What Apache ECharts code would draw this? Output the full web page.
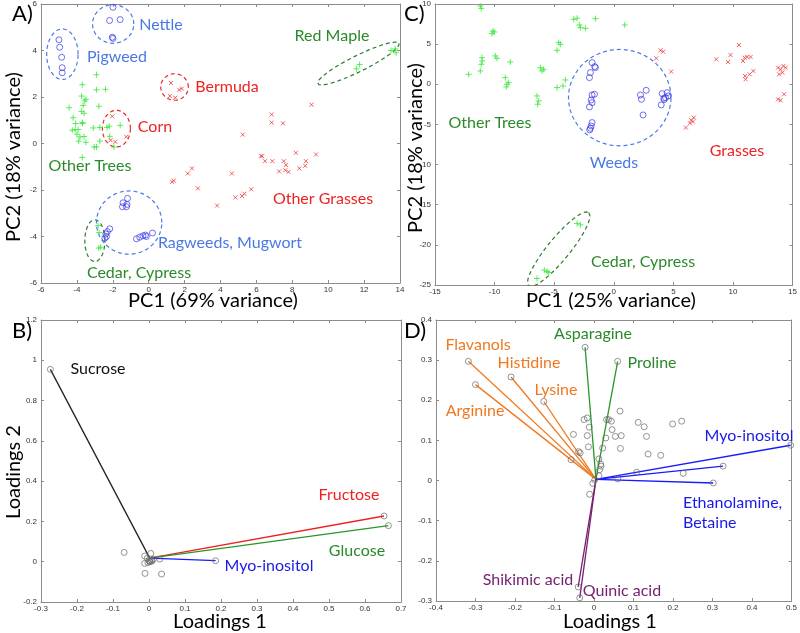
<!DOCTYPE html>
<html><head><meta charset="utf-8">
<script src="https://cdn.jsdelivr.net/npm/echarts@6/dist/echarts.min.js"></script>
<style>html,body{margin:0;padding:0;background:#fff}#c{width:800px;height:633px}</style>
</head><body><div id="c"></div>
<script>
// ---------- Panel A (PCA scores, PC1 69% vs PC2 18%) ----------
const nettleA = [[-1.99,5.86],[-2.18,5.29],[-1.59,5.33],[-2.03,4.57],[-1.99,4.52]];
const pigweedA = [[-5.0,4.46],[-4.96,4.14],[-4.85,3.71],[-4.82,3.26],[-4.82,3.04]];
const ragweedA = [[-1.18,-2.36],[-1.43,-2.55],[-1.21,-2.62],[-1.46,-2.72],[-1.24,-2.72],[-2.17,-3.67],[-2.30,-3.79],[-2.39,-3.89],[-2.35,-4.0],[-2.44,-4.07],[-0.68,-4.10],[-0.5,-4.03],[-0.32,-3.97],[-0.18,-3.94],[0.21,-3.85],[-0.13,-4.0]];
const bermudaA = [[1.24,2.6],[1.18,2.04],[1.48,1.97],[1.70,2.31],[1.85,2.36]];
const cornA = [[-2.03,1.17],[-2.12,0.14],[-1.86,0.07],[-1.25,0.29]];
const grassesA = [[9.07,1.67],[6.85,1.25],[6.85,0.90],[7.48,0.87],[5.24,0.38],[6.26,-0.53],[6.32,-0.55],[6.48,-0.76],[6.89,-0.76],[8.20,-0.40],[9.32,-0.47],[7.52,-0.76],[7.65,-0.93],[7.61,-1.15],[7.26,-1.20],[7.79,-1.22],[8.39,-1.07],[8.76,-0.76],[8.72,-0.96],[2.18,-1.29],[2.41,-1.07],[4.63,-1.29],[2.74,-1.93],[3.81,-2.67],[4.83,-2.32],[5.2,-2.26],[5.33,-2.16],[5.71,-1.97],[1.3,-1.65],[1.4,-1.6]];
const treesA = [[-2.91,2.96],[-3.70,2.53],[-2.91,2.31],[-2.41,2.33],[-3.74,2.04],[-3.56,1.83],[-3.65,1.64],[-4.43,1.54],[-2.78,1.60],[-3.74,1.38],[-4.21,1.11],[-4.07,0.86],[-3.68,0.86],[-3.93,0.60],[-3.09,0.67],[-2.72,0.69],[-2.32,0.69],[-1.59,0.78],[-4.26,0.57],[-3.83,0.28],[-2.72,0.10],[-2.17,0.31],[-2.91,-0.15],[-3.04,-0.15],[-1.94,-0.15],[-3.70,-0.60],[-4.0,0.4],[-3.6,0.3],[-3.9,0.1],[-4.1,0.6],[-3.5,0.05],[-3.7,0.9],[-2.2,0.75],[-3.5,1.9],[-3.6,1.3]];
const redMapleA = [[11.57,3.21],[11.75,3.40],[13.5,4.0],[13.73,4.07],[13.78,3.9]];
const cedarA = [[-2.82,-3.53],[-2.76,-3.83],[-2.68,-4.46],[-2.78,-4.5]];

// ---------- Panel C (PC1 25% vs PC2 18%) ----------
const treesC = [[-11.2,9.75],[-11.12,9.46],[-10.14,6.64],[-10.22,6.31],[-10.03,6.51],[-12.18,1.24],[-11.06,3.32],[-11.04,2.90],[-11.12,2.49],[-11.2,1.66],[-9.94,3.53],[-9.80,3.24],[-8.68,2.78],[-9.10,0.83],[-8.96,0],[-8.82,0.21],[-9.02,-0.33],[-6.44,-1.45],[-6.39,-2.49],[-6.30,-2.07],[-6.16,2.07],[-6.02,1.66],[-5.88,1.87],[-4.62,5.19],[-4.76,4.23],[-4.48,4.98],[-4.76,-0.41],[-4.26,-0.21],[-4.06,0.54],[-3.36,8.09],[-3.08,8.22],[-2.89,7.39],[-2.80,7.05],[-2.38,6.97],[-1.54,8.17],[0.92,7.39]];
const cedarC = [[-3.08,-17.34],[-2.80,-17.51],[-6.44,-24.19],[-5.60,-23.32],[-5.46,-23.44],[-5.83,-23.15]];
const weedsC = [[-1.82,2.70],[-1.54,2.07],[-1.96,1.45],[-2.04,0.83],[-1.60,2.2],[-1.82,-1.33],[-1.62,-1.24],[-1.90,-1.95],[-2.04,-2.82],[-1.82,-2.28],[-1.82,-4.77],[-1.90,-5.19],[-1.96,-5.48],[-2.02,-5.68],[2.24,-1.33],[2.32,-1.87],[2.72,-0.75],[2.46,-3.82],[4.06,-1.16],[4.20,-1.74],[3.98,-2.57],[4.48,-1.04],[4.57,-1.45],[4.34,-1.66],[4.23,-1.91]];
const grassesC = [[3.92,4.23],[4.15,4.07],[3.56,3.24],[4.82,1.58],[8.60,3.11],[9.58,2.78],[9.80,3.65],[10.50,4.90],[10.84,2.90],[10.98,3.32],[11.20,3.40],[11.48,3.40],[11.71,1.66],[11.01,1.04],[11.06,0.62],[11.40,1.24],[13.78,2.07],[14.0,1.87],[13.87,1.24],[14.15,1.45],[14.23,2.28],[14.43,2.07],[13.78,-1.87],[14.0,-1.99],[14.29,-1.24],[6.72,-4.15],[6.50,-4.48],[6.64,-4.65],[6.39,-4.85],[6.05,-5.39]];

// ---------- Panel B (loadings) ----------
const originB = [0.002,0.018];
const sucroseB = [-0.274,0.955];
const fructoseB = [0.653,0.227];
const glucoseB = [0.665,0.179];
const myoB = [0.185,0.005];
const otherB = [[-0.069,0.046],[-0.012,0.028],[0.005,0.041],[-0.012,-0.008],[-0.011,-0.058],[0.035,-0.061],[0.030,0.013],[-0.005,0.017],[0,0.005],[0.003,0],[0.006,0.008],[0.012,0.012],[-0.003,-0.004],[0.002,0.002],[0.008,0.003]];

// ---------- Panel D (loadings) ----------
const originD = [0.005,0.003];
const orangeD = [[-0.318,0.297],[-0.21,0.258],[-0.30,0.239],[-0.127,0.197]];
const greenD = [[-0.0225,0.332],[0.06,0.297]];
const blueD = [[0.498,0.088],[0.327,0.036],[0.302,-0.006]];
const purpleD = [[-0.036,-0.292],[-0.04,-0.265]];
const otherD = [[-0.025,0.152],[-0.017,0.156],[-0.012,0.133],[-0.017,0.112],[-0.014,0.084],[-0.052,0.115],[-0.039,0.072],[-0.035,0.069],[-0.058,0.052],[0.066,0.173],[0.032,0.152],[0.037,0.152],[0.044,0.148],[0.046,0.127],[0.03,0.106],[0.022,0.081],[0.054,0.11],[0.069,0.112],[0.067,0.08],[0.112,0.145],[0.127,0.134],[0.133,0.11],[0.137,0.066],[0.169,0.063],[0.199,0.141],[0.222,0.148],[0.0125,0.054],[0.017,0.041],[0.018,0.036],[0.014,0.027],[0.0125,0.012],[0.002,0.002],[-0.003,-0.007],[-0.011,-0.034],[0.06,0.004],[0.108,0.021],[0.226,0.018]];

// ---------- Axis tick settings ----------
const ticksA = {x:[-6,14,2], y:[-6,6,2]};
const ticksC = {x:[-15,15,5], y:[-25,10,5]};
const ticksB = {x:[-0.3,0.7,0.1], y:[-0.2,1.2,0.2]};
const ticksD = {x:[-0.4,0.5,0.1], y:[-0.3,0.4,0.1]};

// ---------- Ellipse outlines (center, axis vectors) ----------
const ellipsesA = [
  {c:[-1.98,5.14], u:[1.15,0], v:[0,0.83], col:'blue'},
  {c:[-4.81,3.84], u:[0.875,0], v:[0,1.09], col:'blue'},
  {c:[1.44,2.43], u:[0.77,0], v:[0,0.57], col:'red'},
  {c:[-1.80,0.64], u:[0.78,0], v:[0,0.79], col:'red'},
  {c:[11.68,3.44], u:[2.27,0.87], v:[0.198,-0.307], col:'green'},
  {c:[-3.0,-4.18], u:[0.56,0], v:[0,0.9], col:'green'},
  {c:[-1.09,-3.40], u:[1.82,0], v:[0,1.36], col:'blue'}
];
const ellipsesC = [
  {c:[0.5,-1.66], u:[4.3,0], v:[0,6.0], col:'blue'},
  {c:[-4.62,-20.54], u:[2.52,4.56], v:[0.71,-0.87], col:'green'}
];

const C = {
  blueTxt:'#4a78e6', redTxt:'#ee2222', greenTxt:'#2a8a2a',
  blueDash:'#4a7be8', redDash:'#e82828', greenDash:'#2e7d2e',
  plus:'#35e835', cross:'#f03a3a', circ:'#3838e6',
  gray:'#6a6a6a', orange:'#f07820', green2:'#2a962a', blue2:'#1a1aff', purple:'#782070'
};

const grids = [
  {left:41, top:3, width:359, height:280},
  {left:435, top:3, width:358, height:282},
  {left:41, top:320, width:360, height:282},
  {left:436, top:320, width:357, height:281}
];
const fmt = v => String(+(+v).toFixed(2));
const xAxes = [], yAxes = [];
function axes(g, t){
  const common = {type:'value', gridIndex:g, splitLine:{show:false},
    axisLine:{show:true, onZero:false, lineStyle:{color:'#8c8c8c', width:1}},
    axisTick:{show:true, inside:true, length:3, lineStyle:{color:'#8c8c8c'}}};
  const lab = {show:true, fontSize:8, color:'#333', fontFamily:'Liberation Sans', formatter:fmt};
  xAxes.push(Object.assign({}, common, {position:'bottom', min:t.x[0], max:t.x[1], interval:t.x[2], axisLabel:Object.assign({margin:3}, lab)}));
  xAxes.push(Object.assign({}, common, {position:'top', min:t.x[0], max:t.x[1], interval:t.x[2], axisLabel:{show:false}}));
  yAxes.push(Object.assign({}, common, {position:'left', min:t.y[0], max:t.y[1], interval:t.y[2], axisLabel:Object.assign({margin:4}, lab)}));
  yAxes.push(Object.assign({}, common, {position:'right', min:t.y[0], max:t.y[1], interval:t.y[2], axisLabel:{show:false}}));
}
axes(0,ticksA); axes(1,ticksC); axes(2,ticksB); axes(3,ticksD);

const PLUS = 'path://M0,5L10,5M5,0L5,10';
const CROSS = 'path://M0,0L10,10M0,10L10,0';
const series = [];
function scat(g, data, sym, color, size, bw){
  series.push({type:'scatter', xAxisIndex:2*g, yAxisIndex:2*g, data:data, symbol:sym, symbolSize:size,
    itemStyle:{color:'rgba(0,0,0,0)', borderColor:color, borderWidth:bw||1}, silent:true, z:4, animation:false});
}
function seg(g, a, b, color, w){
  series.push({type:'line', xAxisIndex:2*g, yAxisIndex:2*g, data:[a,b], symbol:'none',
    lineStyle:{color:color, width:w||1.3}, silent:true, z:3, animation:false});
}
function ell(g, e){
  const pts = [];
  for(let i=0;i<=72;i++){ const t = i/72*2*Math.PI;
    pts.push([e.c[0]+e.u[0]*Math.cos(t)+e.v[0]*Math.sin(t), e.c[1]+e.u[1]*Math.cos(t)+e.v[1]*Math.sin(t)]); }
  const col = e.col==='blue'?C.blueDash:e.col==='red'?C.redDash:C.greenDash;
  series.push({type:'line', xAxisIndex:2*g, yAxisIndex:2*g, data:pts, symbol:'none', showSymbol:false,
    lineStyle:{color:col, width:1.2, type:[4,3]}, silent:true, z:2, animation:false});
}
// Panel A
ellipsesA.forEach(e=>ell(0,e));
scat(0, treesA, PLUS, C.plus, 6); scat(0, redMapleA, PLUS, C.plus, 6); scat(0, cedarA, PLUS, C.plus, 6);
scat(0, grassesA, CROSS, C.cross, 4); scat(0, bermudaA, CROSS, C.cross, 4); scat(0, cornA, CROSS, C.cross, 4);
scat(0, nettleA, 'circle', C.circ, 6, 0.9); scat(0, pigweedA, 'circle', C.circ, 6, 0.9); scat(0, ragweedA, 'circle', C.circ, 6, 0.9);
// Panel C
ellipsesC.forEach(e=>ell(1,e));
scat(1, treesC, PLUS, C.plus, 6); scat(1, cedarC, PLUS, C.plus, 6);
scat(1, grassesC, CROSS, C.cross, 4);
scat(1, weedsC, 'circle', C.circ, 6, 0.9);
// Panel B
seg(2, originB, sucroseB, '#222'); seg(2, originB, fructoseB, '#f02020'); seg(2, originB, glucoseB, '#2a962a'); seg(2, originB, myoB, C.blue2);
scat(2, [sucroseB, fructoseB, glucoseB, myoB].concat(otherB), 'circle', C.gray, 6, 0.9);
// Panel D
orangeD.forEach(p=>seg(3, originD, p, C.orange));
greenD.forEach(p=>seg(3, originD, p, C.green2));
blueD.forEach(p=>seg(3, originD, p, C.blue2));
purpleD.forEach(p=>seg(3, originD, p, C.purple));
scat(3, orangeD.concat(greenD, blueD, purpleD, otherD), 'circle', C.gray, 6, 0.9);

function txt(s, x, y, color, size, align, rot){
  return {type:'text', x:x, y:y, rotation:rot||0, z:20, silent:true,
    style:{text:s, fill:color, font:(size||16)+'px Lato', align:align||'center', verticalAlign:'middle'}};
}
const R = Math.PI/2;
const texts = [
  txt('A)', 12, 14, '#000', 22, 'left'),
  txt('Nettle', 161, 25, C.blueTxt), txt('Pigweed', 117, 57, C.blueTxt), txt('Bermuda', 227, 87, C.redTxt),
  txt('Red Maple', 332, 36, C.greenTxt), txt('Corn', 155, 127, C.redTxt), txt('Other Trees', 90, 166, C.greenTxt),
  txt('Other Grasses', 323, 199, C.redTxt), txt('Ragweeds, Mugwort', 230, 243, C.blueTxt), txt('Cedar, Cypress', 139, 273, C.greenTxt),
  txt('PC1 (69% variance)', 213, 301, '#000', 20), txt('PC2 (18% variance)', 14, 157, '#000', 20, 'center', R),
  txt('C)', 404, 14, '#000', 22, 'left'),
  txt('Other Trees', 490, 123, C.greenTxt), txt('Weeds', 614, 163, C.blueTxt), txt('Grasses', 737, 151, C.redTxt),
  txt('Cedar, Cypress', 643, 262, C.greenTxt),
  txt('PC1 (25% variance)', 611, 301, '#000', 20), txt('PC2 (18% variance)', 416, 148, '#000', 20, 'center', R),
  txt('B)', 12, 331, '#000', 22, 'left'),
  txt('Sucrose', 98, 369, '#111'), txt('Fructose', 349, 495, '#f02020'), txt('Glucose', 357, 551, '#2a8a2a'),
  txt('Myo-inositol', 269, 566, '#1a1ae6'),
  txt('Loadings 1', 220, 622, '#000', 20), txt('Loadings 2', 14, 472, '#000', 20, 'center', R),
  txt('D)', 404, 331, '#000', 22, 'left'),
  txt('Flavanols', 478, 345, C.orange), txt('Histidine', 529, 363, C.orange), txt('Lysine', 556, 390, C.orange),
  txt('Arginine', 475, 411, C.orange), txt('Asparagine', 593, 334, '#2a8a2a'), txt('Proline', 652, 363, '#2a8a2a'),
  txt('Myo-inositol', 749, 436, '#1a1ae6'), txt('Ethanolamine,', 683, 503, '#1a1ae6', 16, 'left'), txt('Betaine', 683, 523, '#1a1ae6', 16, 'left'),
  txt('Shikimic acid', 528, 580, C.purple), txt('Quinic acid', 622, 591, C.purple),
  txt('Loadings 1', 610, 622, '#000', 20)
];

const chart = echarts.init(document.getElementById('c'), null, {renderer:'canvas'});
chart.setOption({
  animation:false, backgroundColor:'#fff',
  grid:grids, xAxis:xAxes, yAxis:yAxes, series:series, graphic:texts
});
</script></body></html>
